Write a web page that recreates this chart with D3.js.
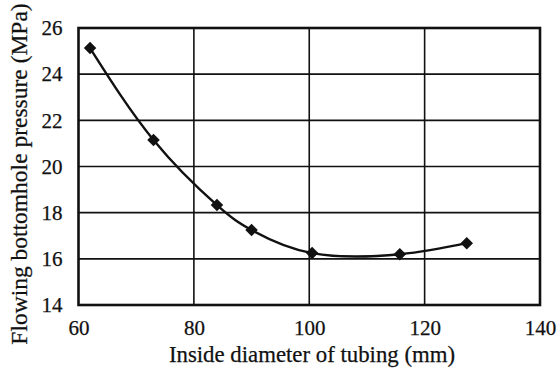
<!DOCTYPE html>
<html>
<head>
<meta charset="utf-8">
<script src="https://cdn.jsdelivr.net/npm/d3@7"></script>
<style>
  html, body { margin: 0; padding: 0; background: #fff; }
  svg text { font-family: "Liberation Serif", "DejaVu Serif", serif; fill: #111; stroke: #111; stroke-width: 0.25px; }
</style>
</head>
<body>
<svg id="chart" width="557" height="370"></svg>
<script>
// Tubing inside diameter (mm) and the resulting flowing bottomhole pressure (MPa)
const diameters = [62, 73, 84, 90, 100.5, 115.7, 127.3];
const pressures = [25.13, 21.15, 18.33, 17.25, 16.25, 16.2, 16.68];
const xTicks = [60, 80, 100, 120, 140];
const yTicks = [14, 16, 18, 20, 22, 24, 26];

const margin = { left: 78.5, right: 17, top: 28, bottom: 65 };
const W = 557, H = 370;
const svg = d3.select("#chart");

const x = d3.scaleLinear().domain([60, 140]).range([margin.left, W - margin.right]);
const y = d3.scaleLinear().domain([14, 26]).range([H - margin.bottom, margin.top]);

// grid lines
const grid = svg.append("g").attr("stroke", "#111").attr("stroke-width", 1.6);
grid.selectAll("line.v").data(xTicks.slice(1, -1)).join("line")
  .attr("x1", d => x(d)).attr("x2", d => x(d))
  .attr("y1", y(14)).attr("y2", y(26));
grid.selectAll("line.h").data(yTicks.slice(1, -1)).join("line")
  .attr("x1", x(60)).attr("x2", x(140))
  .attr("y1", d => y(d)).attr("y2", d => y(d));

// frame
svg.append("rect")
  .attr("x", x(60)).attr("y", y(26))
  .attr("width", x(140) - x(60)).attr("height", y(14) - y(26))
  .attr("fill", "none").attr("stroke", "#111").attr("stroke-width", 2.6);

// axes (labels only, no tick marks)
const xAxis = svg.append("g")
  .attr("transform", `translate(0,${y(14)})`)
  .call(d3.axisBottom(x).tickValues(xTicks).tickSize(0).tickPadding(15));
const yAxis = svg.append("g")
  .attr("transform", `translate(${x(60)},0)`)
  .call(d3.axisLeft(y).tickValues(yTicks).tickSize(0).tickPadding(16));
[xAxis, yAxis].forEach(a => {
  a.select(".domain").remove();
  a.selectAll("text").attr("font-size", 21)
    .attr("font-family", "Liberation Serif, serif").attr("fill", "#111");
});

// curve
const pts = diameters.map((d, i) => [d, pressures[i]]);
svg.append("path")
  .datum(pts)
  .attr("fill", "none").attr("stroke", "#111").attr("stroke-width", 2.4)
  .attr("d", d3.line().x(d => x(d[0])).y(d => y(d[1])).curve(d3.curveNatural));

// diamond markers
svg.selectAll("path.pt").data(pts).join("path")
  .attr("class", "pt")
  .attr("transform", d => `translate(${x(d[0])},${y(d[1])}) rotate(45)`)
  .attr("d", d3.symbol().type(d3.symbolSquare).size(78))
  .attr("fill", "#111");

// axis titles
svg.append("text")
  .attr("x", 312).attr("y", 362)
  .attr("text-anchor", "middle").attr("font-size", 22.8)
  .text("Inside diameter of tubing (mm)");
svg.append("text")
  .attr("transform", `translate(27,174) rotate(-90)`)
  .attr("text-anchor", "middle").attr("font-size", 23.5)
  .text("Flowing bottomhole pressure (MPa)");
</script>
</body>
</html>
